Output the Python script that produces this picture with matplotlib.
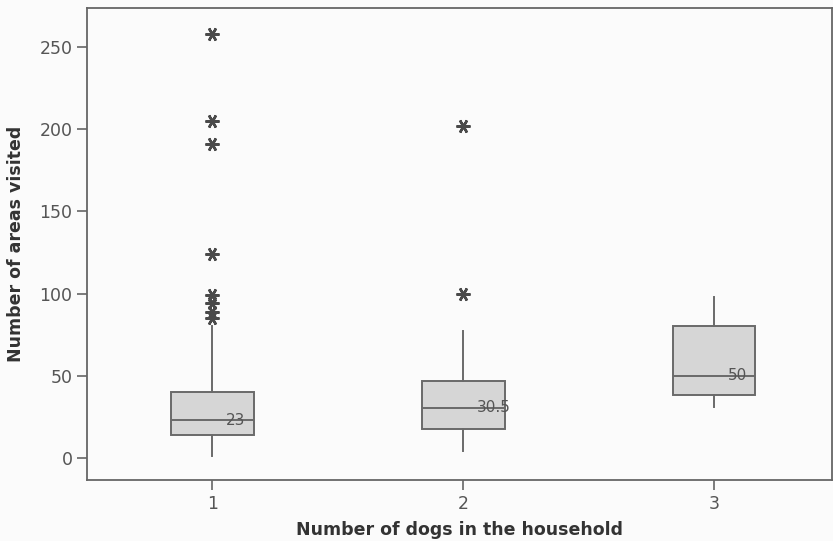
import matplotlib
matplotlib.use("Agg")
import matplotlib.pyplot as plt

# Number of dogs in the household (groups)
groups = [1, 2, 3]
# Box statistics for number of areas visited
q1 = [14, 17.5, 38]
medians = [23, 30.5, 50]
q3 = [40, 47, 80]
whisker_low = [1, 4, 31]
whisker_high = [80, 77, 98]
outliers = [
    [258, 205, 191, 124, 99, 94, 89, 85],
    [202, 100],
    [],
]
median_labels = ["23", "30.5", "50"]
yticks = [0, 50, 100, 150, 200, 250]

stats = []
for i in range(len(groups)):
    stats.append(dict(q1=q1[i], med=medians[i], q3=q3[i],
                      whislo=whisker_low[i], whishi=whisker_high[i],
                      fliers=outliers[i], label=str(groups[i])))

fig = plt.figure(figsize=(8.33, 5.41), dpi=100, facecolor="#fbfbfb")
ax = fig.add_axes([0.1044, 0.1128, 0.8944, 0.8722])
ax.set_facecolor("#fbfbfb")

edge = "#6a6a6a"
ax.bxp(stats, positions=groups, widths=0.33, patch_artist=True,
       showcaps=False,
       boxprops=dict(facecolor="#d6d6d6", edgecolor=edge, linewidth=1.4),
       medianprops=dict(color=edge, linewidth=1.4),
       whiskerprops=dict(color=edge, linewidth=1.4),
       flierprops=dict(marker=(6, 2, 90), markersize=10, markeredgecolor="#4a4a4a",
                       markeredgewidth=1.8, linestyle="none"))

for x, m, lab in zip(groups, medians, median_labels):
    ax.text(x + 0.055, m, lab, ha="left", va="center", fontsize=11,
            color="#555555")

ax.set_xlim(0.5, 3.47)
ax.set_ylim(-13.4, 273.7)
ax.set_xticks(groups)
ax.set_xticklabels([str(g) for g in groups])
ax.set_yticks(yticks)

for s in ax.spines.values():
    s.set_color("#666666")
    s.set_linewidth(1.3)
ax.tick_params(axis="both", colors="#666666", labelcolor="#555555",
               labelsize=12.5, length=7, width=1.2)

ax.set_xlabel("Number of dogs in the household", fontsize=12.5,
              fontweight="bold", color="#333333", labelpad=6)
ax.set_ylabel("Number of areas visited", fontsize=12.5,
              fontweight="bold", color="#333333", labelpad=10)

fig.savefig("out.png", dpi=100, facecolor=fig.get_facecolor())
